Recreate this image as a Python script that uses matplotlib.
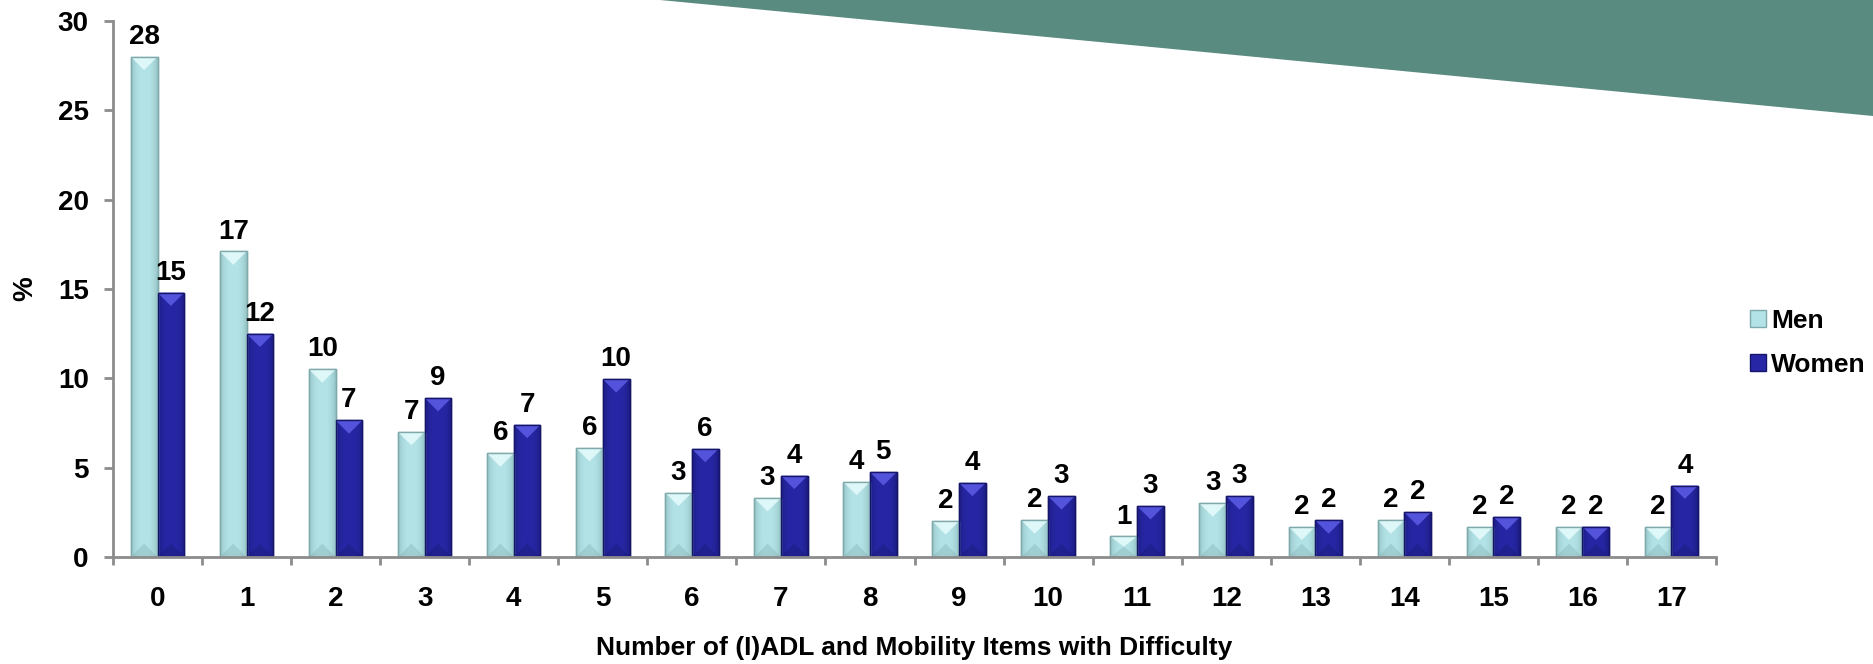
import numpy as np
import matplotlib
matplotlib.use("Agg")
import matplotlib.pyplot as plt
from matplotlib.patches import Polygon, Patch
from matplotlib.colors import to_rgb

# ---------------- data ----------------
categories = [str(i) for i in range(18)]
men = [28.0, 17.1, 10.5, 7.0, 5.8, 6.1, 3.6, 3.3, 4.2, 2.0, 2.05, 1.15, 3.0, 1.7, 2.05, 1.7, 1.7, 1.7]
women = [14.8, 12.5, 7.65, 8.9, 7.4, 9.95, 6.05, 4.55, 4.75, 4.15, 3.4, 2.85, 3.4, 2.05, 2.5, 2.25, 1.7, 4.0]
men_labels = [28, 17, 10, 7, 6, 6, 3, 3, 4, 2, 2, 1, 3, 2, 2, 2, 2, 2]
women_labels = [15, 12, 7, 9, 7, 10, 6, 4, 5, 4, 3, 3, 3, 2, 2, 2, 2, 4]
series_names = ["Men", "Women"]
y_ticks = [0, 5, 10, 15, 20, 25, 30]
x_title = "Number of (I)ADL and Mobility Items with Difficulty"
y_title = "%"

# ---------------- style ----------------
W, H = 1873, 664
fig = plt.figure(figsize=(W / 100, H / 100), dpi=100)
fig.patch.set_facecolor("white")

FONT = ["Liberation Sans", "DejaVu Sans"]
NUM_SIZE = 20

# teal decorative wedge (top right)
wedge = Polygon([(660 / W, 1.0), (1.0, 1.0), (1.0, 1 - 116 / H)], closed=True,
                transform=fig.transFigure, facecolor="#5a8b81", edgecolor="none", zorder=0)
fig.patches.append(wedge)

ax = fig.add_axes([113 / W, 1 - 557 / H, (1716 - 113) / W, (557 - 21) / H])
ax.patch.set_visible(False)

x = np.arange(len(categories))
bw = 0.3
men_main, men_light, men_dark = "#b3e3e7", "#e6fbfc", "#7fa9ab"
wom_main, wom_light, wom_dark = "#2727a6", "#5c5ce6", "#15156a"

ax.set_xlim(-0.5, len(categories) - 0.5)
ax.set_ylim(0, 30)

bars_m = ax.bar(x - bw / 2, men, width=bw, color=men_main, edgecolor=men_dark, linewidth=1.0, zorder=2)
bars_w = ax.bar(x + bw / 2, women, width=bw, color=wom_main, edgecolor=wom_dark, linewidth=1.0, zorder=2)

# bevel effect derived from each bar's own geometry
fig.canvas.draw()
px_per_unit_y = ax.transData.transform((0, 1))[1] - ax.transData.transform((0, 0))[1]
px_per_unit_x = ax.transData.transform((1, 0))[0] - ax.transData.transform((0, 0))[0]

def bevel(bars, main, light, dark):
    for r in bars:
        x0, y0 = r.get_x(), r.get_y()
        w, h = r.get_width(), r.get_height()
        half_px = w * px_per_unit_x / 2
        d = min(half_px / px_per_unit_y, h / 2)
        grad = np.abs(np.linspace(-1, 1, 64)) ** 3
        c_main = np.array(to_rgb(main)); c_dark = np.array(to_rgb(dark))
        img = (1 - grad[:, None] * 0.6) * c_main + grad[:, None] * 0.6 * c_dark
        im = ax.imshow(img[None, :, :], extent=(x0, x0 + w, y0, y0 + h), aspect="auto",
                       zorder=2.1, interpolation="bilinear")
        im.set_clip_path(r)
        top = Polygon([(x0, y0 + h), (x0 + w, y0 + h), (x0 + w / 2, y0 + h - d)],
                      closed=True, facecolor=light, edgecolor="none", alpha=0.85, zorder=2.2)
        ax.add_patch(top)
        bot = Polygon([(x0, y0), (x0 + w, y0), (x0 + w / 2, y0 + d)],
                      closed=True, facecolor=dark, edgecolor="none", alpha=0.35, zorder=2.2)
        ax.add_patch(bot)
        edge = plt.Rectangle((x0, y0), w, h, fill=False, edgecolor=dark, linewidth=1.0, zorder=2.3)
        ax.add_patch(edge)

bevel(bars_m, men_main, men_light, men_dark)
bevel(bars_w, wom_main, wom_light, wom_dark)

# data labels
for bars, labels in ((bars_m, men_labels), (bars_w, women_labels)):
    for r, lab in zip(bars, labels):
        ax.annotate(str(lab), (r.get_x() + r.get_width() / 2, r.get_height()), xytext=(0, 5),
                    textcoords="offset points", ha="center", va="bottom", fontsize=NUM_SIZE,
                    fontweight="bold", family=FONT, zorder=3)

# axes styling
axis_gray = "#8c8c8c"
for s in ["top", "right"]:
    ax.spines[s].set_visible(False)
for s in ["left", "bottom"]:
    ax.spines[s].set_color(axis_gray)
    ax.spines[s].set_linewidth(2.0)

ax.set_yticks(y_ticks)
ax.set_yticklabels([str(v) for v in y_ticks], fontsize=NUM_SIZE, fontweight="bold", family=FONT)
ax.tick_params(axis="y", direction="out", length=6.5, width=2, color=axis_gray, pad=11)

ax.set_xticks(x)
ax.set_xticklabels(categories, fontsize=NUM_SIZE, fontweight="bold", family=FONT)
ax.set_xticks(np.arange(len(categories) + 1) - 0.5, minor=True)
ax.tick_params(axis="x", which="major", length=0, pad=21)
ax.tick_params(axis="x", which="minor", direction="out", length=6, width=2, color=axis_gray)

ax.set_xlabel(x_title, fontsize=19, fontweight="bold", family=FONT)
ax.xaxis.set_label_coords(0.5, (557 - 648) / 536, transform=ax.transAxes)
ax.xaxis.label.set_va("center")
ax.set_ylabel(y_title, fontsize=NUM_SIZE, fontweight="bold", family=FONT)
ax.yaxis.set_label_coords((25 - 113) / 1603, 0.5)
ax.yaxis.label.set_va("center")

# legend
handles = [Patch(facecolor=men_main, edgecolor=men_dark), Patch(facecolor=wom_main, edgecolor=wom_dark)]
fig.legend(handles, series_names, loc="center left", bbox_to_anchor=(1750 / W, 1 - 343 / H),
           frameon=False, prop={"family": FONT, "weight": "bold", "size": 19},
           handlelength=0.6, handleheight=0.6, handletextpad=0.2, labelspacing=0.75,
           borderaxespad=0, borderpad=0)

fig.savefig("out.png", dpi=100, facecolor="white")
